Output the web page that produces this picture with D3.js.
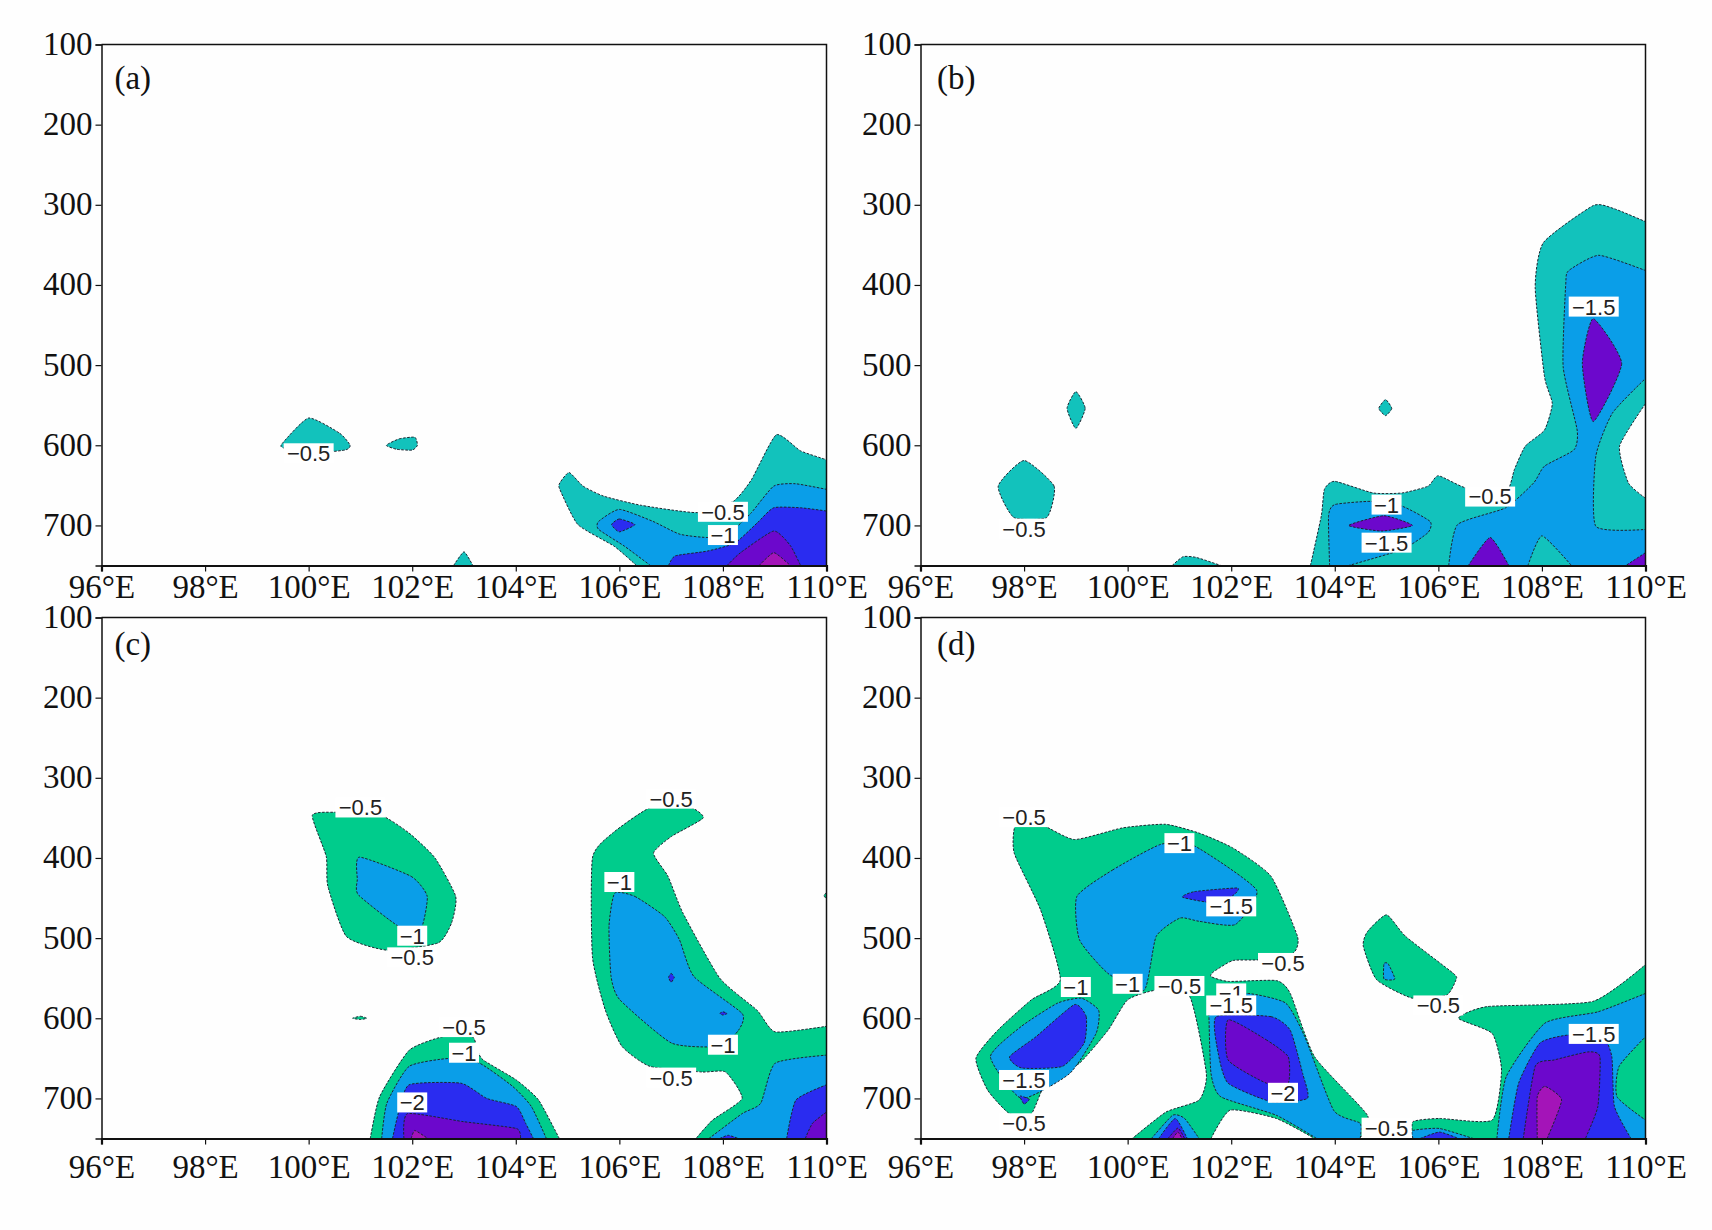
<!DOCTYPE html>
<html>
<head>
<meta charset="utf-8">
<script src="https://d3js.org/d3.v7.min.js"></script>
<style>
  html, body { margin: 0; background: #fefefe; }
  svg { display: block; }
</style>
</head>
<body>
<svg id="graph" width="1712" height="1230"></svg>
<script>
// Tick values shared by the four panels
var lonTicks = [96, 98, 100, 102, 104, 106, 108, 110];
var levelTicks = [100, 200, 300, 400, 500, 600, 700];
var panelNames = ["(a)", "(b)", "(c)", "(d)"];

// Shaded regions, [lon, hPa] outlines, one list per contour level

// Panel (a)
var a05 = [
  [[100,566],[100.6,585],[100.8,600],[100.7,606],[100,610],[99.5,603],[99.5,597]],
  [[101.5,600],[101.75,592],[102.05,590],[102.1,600],[102,606],[101.7,605]],
  [[102.8,750],[103,733],[103.17,750]],
  [[105.03,634],[105.3,651],[105.7,663.5],[106.43,675],[107.5,684],[108.2,670],[108.55,643],[109.03,587],[109.5,607],[110,618],[110,750],[106.33,750],[105.9,726],[105.2,699],[104.85,655],[104.85,647]]
];
var a10 = [
  [[106,680],[106.65,695],[107.17,711],[107.75,715],[108.2,705],[108.55,684],[108.98,651],[109.4,648],[110,655],[110,750],[106.6,750],[106.1,726],[105.6,705],[105.6,695]]
];
var a15 = [
  [[105.85,699],[106,692],[106.3,699],[106,708]],
  [[106.95,750],[107.08,738],[107.7,732],[108.23,722],[108.66,697],[108.98,678],[109.5,678],[110,682],[110,750]]
];
var a20 = [[[108.08,750],[108.34,734],[108.98,707],[109.3,725],[109.5,750]]];
var a25 = [[[108.7,750],[108.98,734],[109.25,747],[109.3,750]]];

// Panel (b)
var b05 = [
  [[98,619],[98.58,651],[98.44,690],[97.8,690],[97.5,651]],
  [[99,533],[99.18,554],[99,579],[98.83,554]],
  [[104.98,543],[105.1,554],[104.98,563],[104.85,554]],
  [[100.86,750],[101.07,739],[101.33,740],[101.8,750]],
  [[103.53,750],[103.74,688],[103.8,655],[104,645],[104.74,659.5],[105.3,659.5],[105.8,651],[106,638],[106.52,653],[107.3,659],[107.47,630],[107.68,601],[108.05,581],[108.2,548],[108.05,514.5],[107.87,403],[108.03,347],[108.99,301],[109.4,305],[110,321],[110,548],[109.5,601],[109.67,647],[110,666],[110,750]]
];
var b10 = [
  [[103.9,750],[103.88,688],[104,674],[104.7,670],[105.3,676],[105.84,695],[105.8,709],[105.3,730],[104.27,750]],
  [[106.2,750],[106.37,699],[107.3,678],[107.84,647],[108.05,626],[108.62,605.6],[108.68,581],[108.41,502],[108.46,398.5],[108.52,382],[109.1,363],[110,382],[110,516.6],[109.36,560],[109.04,614],[109.04,701],[110,705],[110,750],[108.57,750],[108,713],[107.73,750]]
];
var b15 = [];
var b20 = [
  [[108.99,442],[109.54,498],[108.99,570.4],[108.78,498]],
  [[104.27,700],[104.95,688],[105.5,700],[104.9,707]],
  [[107,715],[107.36,750],[106.58,750]],
  [[110,734],[109.62,750],[110,750]]
];
var b25 = [];

// Panel (c)
var c05 = [
  [[100.07,347],[100.5,343],[101.37,346],[101.94,369],[102.44,400],[102.84,448],[102.76,481],[102.5,506],[101.51,515],[100.73,498],[100.37,435],[100.34,398]],
  [[100.85,600],[101,597.5],[101.12,600],[101,601.5]],
  [[109.95,447],[110,443],[110,451]],
  [[101.19,750],[101.37,698],[101.94,640],[102.59,623],[103.16,623],[103.26,640],[103.37,652],[104.01,677],[104.44,702],[104.84,750]],
  [[106.59,337.5],[107.34,336],[107.62,350],[107.01,373],[106.66,394],[106.94,423],[107.23,469],[107.94,550],[108.66,590],[109.01,617],[110,610],[110,750],[107.48,750],[107.8,727],[108.37,700],[108.05,667],[107.59,667],[106.59,660],[106.05,635],[105.73,590],[105.48,523],[105.48,400],[105.87,369]]
];
var c10 = [
  [[100.98,399],[101.98,423],[102.29,448],[102.16,490],[101.73,485],[100.96,446],[100.94,427]],
  [[101.41,750],[101.51,706],[101.94,660],[102.73,650],[103.3,656],[103.94,685],[104.3,710],[104.59,750]],
  [[105.91,444],[106.3,448],[106.87,473],[107.16,502],[107.44,548],[108.37,594],[108.3,615],[107.94,635],[107.01,631],[106.01,577],[105.84,548],[105.8,485]],
  [[107.73,750],[108.37,719],[108.73,706],[109.01,656],[110,646],[110,750]]
];
var c15 = [
  [[101.62,750],[101.73,719],[101.94,683],[102.94,681],[103.44,700],[104.01,710],[104.19,731],[104.34,750]],
  [[106.95,549],[107,544],[107.06,549],[107,555]],
  [[107.94,594],[108,592],[108.08,594],[108,596]],
  [[107.94,750],[108.1,746],[108.3,750]],
  [[109.23,750],[109.41,702],[110,683],[110,750]]
];
var c20 = [
  [[101.84,750],[101.91,719],[102.99,729],[104.01,737.5],[104.09,750]],
  [[109.59,750],[109.73,731],[110,717],[110,750]]
];
var c25 = [[[101.98,750],[102.05,740],[102.3,750]]];

// Panel (d)
var d05 = [
  [[97.84,358],[98.32,358],[98.97,377],[99.9,362.5],[100.73,358],[101.38,369],[102.03,387.5],[102.77,423],[103.28,498],[103.19,519],[102.54,527],[102.03,528],[101.66,542],[101.61,548],[101.94,554],[102.87,553],[103.14,569],[103.61,648],[104.63,721],[104.49,750],[103.61,750],[102.87,725],[101.98,714.6],[101.61,750],[100.09,750],[100.74,717],[101.38,702],[101.52,669],[101.2,573],[100.55,565],[100,577],[99.62,615],[99.07,656],[98.42,681],[98.14,719],[97.72,719],[97.3,690],[97.07,650],[97.49,615],[98.14,577],[98.7,552],[98.32,465],[97.81,394]],
  [[105,471],[105.37,498],[106.29,544],[106.34,552],[106.16,571],[105.5,575],[104.81,552],[104.55,510],[104.63,492]],
  [[105.51,750],[105.51,729],[106.02,725],[107.04,727],[107.22,665],[107.04,619],[106.39,600],[106.95,585.4],[108.98,579],[110,533],[110,750]]
];
var d10 = [
  [[99.02,448],[99.71,415],[100.64,383],[101.29,385],[102.49,440],[102.08,483],[101.38,479],[101.01,475],[100.55,498],[100.32,565],[99.62,544],[99.07,502]],
  [[99.11,575],[99.44,590],[99.39,619],[98.88,669],[97.95,700],[97.35,648],[97.95,610],[98.65,581]],
  [[101.57,577],[102.31,569],[103.05,581],[103.42,623],[103.98,715],[104.49,731],[104.49,750],[103.65,750],[102.87,721],[101.8,698],[101.61,669],[101.57,598]],
  [[104.95,532],[105.03,532],[105.16,551],[104.95,551]],
  [[100.46,750],[100.87,721],[101.1,725],[101.38,750]],
  [[105.51,750],[105.51,740],[106.02,737.5],[106.67,750]],
  [[107.13,750],[107.31,673],[108.06,606],[109.08,592],[110,569],[110,623],[109.49,660],[109.45,698],[110,727],[110,750]]
];
var d15 = [
  [[101.06,449],[101.29,442],[102.12,437.5],[102.03,447],[101.66,456]],
  [[98.97,583],[99.2,598],[99.16,631],[98.74,660],[97.95,662],[97.72,648],[98.23,623]],
  [[97.92,697],[98.1,701],[98,707]],
  [[101.71,598],[102.77,598],[103.14,615],[103.38,669],[103.47,700],[102.77,704],[101.94,681],[101.75,644]],
  [[100.6,750],[100.92,725],[101.15,750]],
  [[105.65,750],[106.02,742],[106.39,750]],
  [[107.36,750],[107.55,681],[107.96,631],[108.5,621],[109.17,623],[109.35,648],[109.4,710],[109.72,750]]
];
var d20 = [
  [[101.94,602],[102.68,627],[103.1,648],[103.1,681],[102.68,681],[101.94,652]],
  [[100.78,750],[100.97,737],[101.1,750]],
  [[107.64,750],[107.87,660],[108.24,652],[108.89,642],[109.12,648],[109.08,710],[108.84,750]]
];
var d25 = [
  [[100.87,750],[100.97,742],[101.05,750]],
  [[107.91,750],[107.91,698],[108.06,685],[108.38,702],[108.1,750]]
];

// Contour labels: text, lon, hPa
var aLabels = [["−0.5",100,610],["−0.5",108,683],["−1",108,712]];
var bLabels = [["−0.5",98,704],["−1",105,674],["−1.5",105,721.5],["−0.5",107,664],["−1.5",109,427]];
var cLabels = [["−0.5",101,337],["−1",102,497],["−0.5",102,524],["−0.5",107,326],["−1",106,430],["−1",108,633],["−0.5",107,674],["−0.5",103,611],["−1",103,643],["−2",102,705]];
var dLabels = [["−0.5",98,349],["−1",101,381.5],["−1.5",102,460.4],["−0.5",103,531],["−1",99,561],["−1",100,557],["−0.5",101,559.7],["−1",102,569],["−1.5",102,584],["−1.5",98,677],["−0.5",98,731],["−2",103,693],["−0.5",105,736.5],["−0.5",106,584],["−1.5",109,619.5]];

// First shade differs between the top and bottom row
var tealShade = "#12c2bc", greenShade = "#00cc8c";
var shades = ["#0a9ee8", "#2a2cf0", "#6c08cc", "#a414b8"];

var panels = [
  {name: panelNames[0], levels: [a05, a10, a15, a20, a25], labels: aLabels, first: tealShade},
  {name: panelNames[1], levels: [b05, b10, b15, b20, b25], labels: bLabels, first: tealShade},
  {name: panelNames[2], levels: [c05, c10, c15, c20, c25], labels: cLabels, first: greenShade},
  {name: panelNames[3], levels: [d05, d10, d15, d20, d25], labels: dLabels, first: greenShade}
];

var svg = d3.select("#graph");
var lefts = [101.5, 920.5], tops = [44.5, 617.5];
var pw = 725, ph = 521;
var serif = "'Liberation Serif', 'Times New Roman', serif";
var sans = "'Liberation Sans', Arial, sans-serif";

// Scales are the same for every panel, each panel gets its own translate
var xScale = d3.scaleLinear().domain([96, 110]).range([0, pw]);
var yScale = d3.scaleLinear().domain([100, 750]).range([0, ph]);
var closedLine = d3.line().x(p => xScale(p[0])).y(p => yScale(p[1]))
  .curve(d3.curveCardinalClosed.tension(0.45));
var openLine = d3.line().x(p => xScale(p[0])).y(p => yScale(p[1]))
  .curve(d3.curveCardinal.tension(0.45));

// Points on the panel edge must stay corners, otherwise the curve bulges there
function onEdge(p) { return p[0] >= 110 || p[1] >= 750; }

function outline(ring) {
  var start = ring.findIndex(onEdge);
  if ( start < 0 )
    return closedLine(ring);
  var pts = ring.slice(start).concat(ring.slice(0, start + 1));
  var d = "", run = [pts[0]];
  for ( var j = 1; j < pts.length; ++j ) {
    run.push(pts[j]);
    if ( onEdge(pts[j]) ) {
      var seg = openLine(run);
      d += d == "" ? seg : "L" + seg.slice(1);
      run = [pts[j]];
    }
  }
  return d + "Z";
}

panels.forEach(function(panel, i) {
  var col = i % 2, row = i >> 1;
  var g = svg.append("g")
    .attr("transform", "translate(" + lefts[col] + "," + tops[row] + ")");

  g.append("clipPath").attr("id", "clip" + i)
    .append("rect").attr("width", pw).attr("height", ph);
  var body = g.append("g").attr("clip-path", "url(#clip" + i + ")");

  // Draw lowest level first so deeper shades sit on top
  panel.levels.forEach(function(regions, k) {
    var color = k == 0 ? panel.first : shades[k - 1];
    body.selectAll(null).data(regions).enter().append("path")
      .attr("d", outline)
      .attr("fill", color)
      .attr("stroke", "#1c2430")
      .attr("stroke-width", 1)
      .attr("stroke-dasharray", "2.5,1.5");
  });

  // Contour labels with white box behind
  var lab = body.selectAll(null).data(panel.labels).enter().append("g")
    .attr("transform", d => "translate(" + xScale(d[1]) + "," + yScale(d[2]) + ")");
  lab.append("rect")
    .attr("x", d => d[0].length > 2 ? -25 : -15)
    .attr("y", -10)
    .attr("width", d => d[0].length > 2 ? 50 : 30)
    .attr("height", 20)
    .attr("fill", "#fff");
  lab.append("text")
    .attr("text-anchor", "middle")
    .attr("dy", "0.36em")
    .style("font-family", sans)
    .style("font-size", "22px")
    .style("fill", "#222")
    .text(d => d[0]);

  // Axes
  var xAxis = d3.axisBottom(xScale).tickValues(lonTicks).tickSize(6).tickFormat(d => d + "°E");
  var yAxis = d3.axisLeft(yScale).tickValues(levelTicks).tickSize(6);
  var gx = g.append("g").attr("transform", "translate(0," + ph + ")").call(xAxis);
  var gy = g.append("g").call(yAxis);
  [gx, gy].forEach(function(ax) {
    ax.selectAll("text").style("font-family", serif).style("font-size", "33px").style("fill", "#111");
    ax.select(".domain").attr("stroke", "#111");
    ax.selectAll(".tick line").attr("stroke", "#111").attr("stroke-width", 1.2);
  });
  gx.select(".domain").attr("stroke-width", 2.2);
  gy.select(".domain").attr("stroke-width", 1.5);
  // Bottom row tick labels sit lower than the top row ones
  gx.selectAll("text").attr("dy", "0.78em").attr("y", row == 0 ? 7 : 14);
  gy.selectAll("text").attr("x", -9).attr("dy", "0.3em");

  // Close the frame on top and right
  g.append("path")
    .attr("d", d3.line()([[0, 0], [pw, 0], [pw, ph]]))
    .attr("fill", "none").attr("stroke", "#111").attr("stroke-width", 1.5);

  g.append("text")
    .attr("x", xScale(col == 0 ? 96.25 : 96.32))
    .attr("y", yScale(row == 0 ? 155 : 147))
    .style("font-family", serif).style("font-size", "33px").style("fill", "#111")
    .text(panel.name);
});
</script>
</body>
</html>
